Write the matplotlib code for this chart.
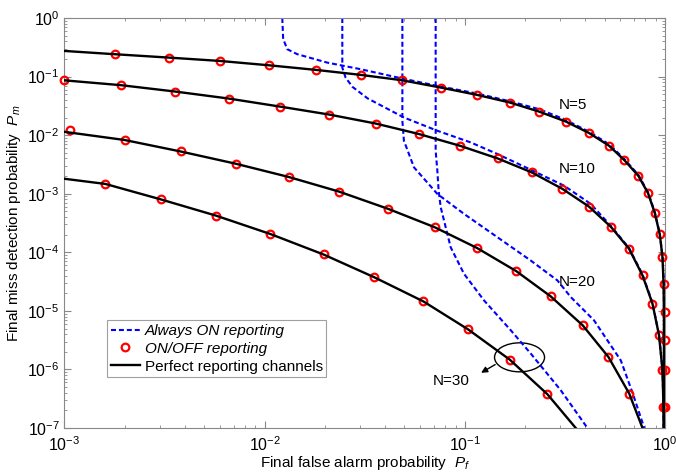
import matplotlib
matplotlib.use('Agg')
import matplotlib.pyplot as plt
from matplotlib.patches import Ellipse
from matplotlib.transforms import ScaledTranslation

plt.rcParams['font.family'] = ['Liberation Sans', 'DejaVu Sans']
plt.rcParams['mathtext.fontset'] = 'custom'
plt.rcParams['mathtext.rm'] = 'Liberation Sans'
plt.rcParams['mathtext.it'] = 'Liberation Sans:italic'

# perfect reporting channels (black)
n5_pf = [0.001, 0.00178, 0.00332, 0.00597, 0.0105, 0.0181, 0.0302, 0.0484, 0.0759, 0.115, 0.168,
         0.235, 0.320, 0.418, 0.527, 0.629, 0.737, 0.825, 0.891, 0.944, 0.974, 0.986, 0.99, 0.99, 0.99, 0.99]
n5_pm = [0.274, 0.241, 0.211, 0.185, 0.156, 0.130, 0.107, 0.0868, 0.065, 0.0488, 0.0361,
         0.0253, 0.0171, 0.0109, 0.00659, 0.00372, 0.00203, 0.00102, 4.71e-4, 2.03e-4, 8.26e-5, 2.9e-5, 9.5e-6, 3.1e-6, 9.7e-7, 1e-7]
n10_pf = [0.001, 0.00191, 0.00358, 0.00661, 0.0119, 0.021, 0.0359, 0.0591, 0.0947, 0.146, 0.216,
          0.308, 0.418, 0.539, 0.663, 0.774, 0.868, 0.936, 0.974, 0.985, 0.987]
n10_pm = [0.0862, 0.0714, 0.0555, 0.0422, 0.0308, 0.0225, 0.0158, 0.01045, 0.00659, 0.00401, 0.00232,
          0.00121, 6.03e-4, 2.7e-4, 1.15e-4, 4.03e-5, 1.33e-5, 3.83e-6, 9.7e-7, 2.3e-7, 1e-7]
n20_pf = [0.001, 0.002, 0.0038, 0.00716, 0.01322, 0.0235, 0.0415, 0.0708, 0.115, 0.181, 0.269,
          0.389, 0.523, 0.664, 0.774]
n20_pm = [0.0114, 0.00826, 0.00527, 0.00326, 0.00193, 0.00109, 5.51e-4, 2.68e-4, 1.19e-4, 4.77e-5, 1.77e-5,
          5.66e-6, 1.63e-6, 3.88e-7, 1e-7]
n30_pf = [0.001, 0.0016, 0.00302, 0.0057, 0.0107, 0.0197, 0.0352, 0.0622, 0.1039, 0.168, 0.259, 0.359]
n30_pm = [0.0018, 0.00147, 8.03e-4, 4.24e-4, 2.05e-4, 9.18e-5, 3.77e-5, 1.45e-5, 4.84e-6, 1.47e-6, 3.78e-7, 1e-7]

# ON/OFF reporting (red circles)
m5_pf = [0.00178, 0.00332, 0.00597, 0.0105, 0.0181, 0.0302, 0.0484, 0.0759, 0.115, 0.168, 0.235, 0.320,
         0.418, 0.527, 0.629, 0.737, 0.825, 0.891, 0.944, 0.974, 0.99, 0.997, 0.998, 0.998, 0.998]
m5_pm = [0.241, 0.211, 0.185, 0.156, 0.130, 0.107, 0.0868, 0.065, 0.0488, 0.0361, 0.0253, 0.0171,
         0.0109, 0.00659, 0.00372, 0.00203, 0.00102, 4.71e-4, 2.03e-4, 8.26e-5, 2.9e-5, 9.5e-6, 3.14e-6, 9.7e-7, 2.3e-7]
m10_pf = [0.001, 0.00191, 0.00358, 0.00661, 0.0119, 0.021, 0.0359, 0.0591, 0.0947, 0.146, 0.216,
          0.308, 0.418, 0.539, 0.663, 0.774, 0.868, 0.936, 0.974, 0.985]
m10_pm = [0.0879, 0.0714, 0.0555, 0.0422, 0.0308, 0.0225, 0.0158, 0.01045, 0.00659, 0.00401, 0.00232,
          0.00121, 6.03e-4, 2.7e-4, 1.15e-4, 4.03e-5, 1.33e-5, 3.83e-6, 9.7e-7, 2.3e-7]
m20_pf = [0.00106, 0.002, 0.0038, 0.00716, 0.01322, 0.0235, 0.0415, 0.0708, 0.115, 0.181, 0.269,
          0.389, 0.523, 0.664]
m20_pm = [0.01236, 0.00826, 0.00527, 0.00326, 0.00193, 0.00109, 5.51e-4, 2.68e-4, 1.19e-4, 4.77e-5, 1.77e-5,
          5.66e-6, 1.63e-6, 3.88e-7]
m30_pf = [0.0016, 0.00302, 0.0057, 0.0107, 0.0197, 0.0352, 0.0622, 0.1039, 0.168, 0.259]
m30_pm = [0.00147, 8.03e-4, 4.24e-4, 2.05e-4, 9.18e-5, 3.77e-5, 1.45e-5, 4.84e-6, 1.47e-6, 3.78e-7]

# always ON reporting (blue dashed)
a5_pf = [0.01226, 0.01238, 0.01299, 0.01457, 0.0206, 0.0302, 0.0484, 0.073, 0.1157, 0.17, 0.235, 0.3137,
         0.418, 0.527, 0.629, 0.737, 0.825, 0.891, 0.944, 0.974, 0.99, 0.994]
a5_pm = [1.0, 0.439, 0.293, 0.241, 0.173, 0.1337, 0.0932, 0.0694, 0.0513, 0.0375, 0.0278, 0.0188,
         0.01143, 0.0070, 0.00389, 0.00211, 0.00106, 4.86e-4, 2.09e-4, 8.5e-5, 2.9e-5, 1e-7]
a10_pf = [0.02446, 0.02446, 0.0254, 0.0275, 0.0327, 0.0497, 0.073, 0.1072, 0.1457, 0.2138, 0.3137, 0.4266,
          0.539, 0.663, 0.774, 0.868, 0.936, 0.974, 0.985, 0.987]
a10_pm = [1.0, 0.1423, 0.0962, 0.0667, 0.0425, 0.02003, 0.01189, 0.00751, 0.00477, 0.00257, 0.001374, 6.7e-4,
          2.8e-4, 1.18e-4, 4.19e-5, 1.37e-5, 3.9e-6, 9.9e-7, 2.4e-7, 1e-7]
a20_pf = [0.04882, 0.04882, 0.0497, 0.0558, 0.073, 0.0992, 0.1457, 0.2138, 0.2907, 0.339, 0.443, 0.6026,
          0.692, 0.79]
a20_pm = [1.0, 0.0176, 0.00803, 0.00282, 9.93e-4, 4.53e-4, 1.81e-4, 7.24e-5, 3.31e-5, 1.72e-5, 6.89e-6, 1.43e-6,
          3.88e-7, 1e-7]
a30_pf = [0.0716, 0.0716, 0.073, 0.0741, 0.0759, 0.0851, 0.0992, 0.1249, 0.17, 0.2138, 0.302, 0.4107]
a30_pm = [1.0, 0.00542, 0.00248, 0.00113, 5.87e-4, 1.22e-4, 4.3e-5, 1.51e-5, 4.66e-6, 1.87e-6, 4.42e-7, 1e-7]

fig = plt.figure(figsize=(6.76, 4.74), dpi=100)
ax = fig.add_axes([0.0954, 0.097, 0.888, 0.865])
ax.set_xscale('log')
ax.set_yscale('log')

dash = (0, (2.4, 1.4))
blue = '#0000ff'
for i, (xs, ys) in enumerate([(a5_pf, a5_pm), (a10_pf, a10_pm), (a20_pf, a20_pm), (a30_pf, a30_pm)]):
    ax.plot(xs, ys, color=blue, lw=1.5, linestyle=dash, label='Always ON reporting' if i == 0 else None)
for i, (xs, ys) in enumerate([(m5_pf, m5_pm), (m10_pf, m10_pm), (m20_pf, m20_pm), (m30_pf, m30_pm)]):
    ax.plot(xs, ys, 'o', ms=5.5, mfc='none', mec='red', mew=1.6, clip_on=False,
            label='ON/OFF reporting' if i == 0 else None, zorder=3)
for i, (xs, ys) in enumerate([(n5_pf, n5_pm), (n10_pf, n10_pm), (n20_pf, n20_pm), (n30_pf, n30_pm)]):
    ax.plot(xs, ys, color='black', lw=1.7, label='Perfect reporting channels' if i == 0 else None, zorder=4)

ax.set_xlim(1e-3, 1)
ax.set_ylim(1e-7, 1)

ax.text(0.347, 0.033, 'N=5', fontsize=11, ha='center', va='center')
ax.text(0.363, 0.00268, 'N=10', fontsize=11, ha='center', va='center')
ax.text(0.363, 3.06e-5, 'N=20', fontsize=11, ha='center', va='center')
ax.text(0.0856, 6.3e-7, 'N=30', fontsize=11, ha='center', va='center')

ell = Ellipse((0, 0), 0.5, 0.29, fill=False, ec='black', lw=1.0,
              transform=fig.dpi_scale_trans + ScaledTranslation(0.188, 1.61e-6, ax.transData))
ax.add_patch(ell)
ax.annotate('', xy=(0.1175, 8.3e-7), xytext=(0.146, 1.28e-6),
            arrowprops=dict(arrowstyle='-|>', color='black', lw=1.0, mutation_scale=9))

gray = '#888888'
for s in ax.spines.values():
    s.set_color(gray)
ax.tick_params(which='both', direction='in', top=True, right=True, colors=gray, labelcolor='black',
               labelsize=11.5)
ax.tick_params(which='major', length=5)
ax.tick_params(which='minor', length=2.5)
ax.tick_params(axis='x', which='major', pad=5)

ax.set_xlabel('Final false alarm probability  $P_f$', fontsize=11, labelpad=0)
ax.set_ylabel('Final miss detection probability  $P_m$', fontsize=11, labelpad=3)

leg = ax.legend(loc='upper left', bbox_to_anchor=(0.071, 0.263), fontsize=11, frameon=True,
                fancybox=False, edgecolor=gray, handlelength=1.9, handletextpad=0.3,
                borderpad=0.25, labelspacing=0.25, borderaxespad=0)
leg.get_frame().set_linewidth(0.8)
for t in leg.get_texts()[:2]:
    t.set_style('italic')

fig.savefig('out.png', dpi=100)
